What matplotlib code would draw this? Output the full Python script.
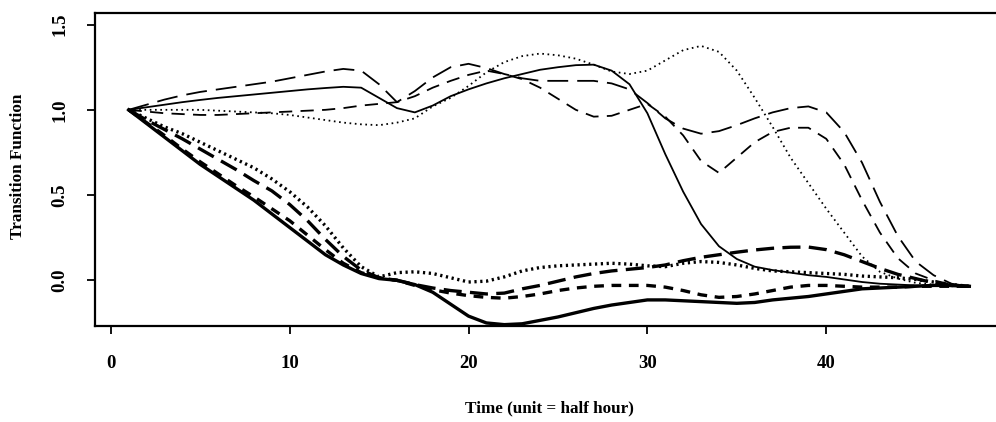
import matplotlib
matplotlib.use("Agg")
import matplotlib.pyplot as plt
import numpy as np

# ---------------- data ----------------
time = list(range(1, 49))

upper_solid = [1.00, 1.015, 1.03, 1.045, 1.058, 1.07, 1.08, 1.09, 1.10, 1.11,
               1.12, 1.128, 1.135, 1.13, 1.07, 1.01, 0.985, 1.025, 1.08, 1.12,
               1.155, 1.185, 1.21, 1.235, 1.25, 1.262, 1.265, 1.23, 1.15, 0.98,
               0.74, 0.52, 0.33, 0.20, 0.125, 0.08, 0.06, 0.045, 0.03, 0.02,
               0.005, -0.01, -0.02, -0.025, -0.03, -0.03, -0.035, -0.035]

upper_dotted = [1.00, 1.00, 1.00, 1.00, 1.00, 0.995, 0.99, 0.985, 0.98, 0.97,
                0.955, 0.94, 0.925, 0.915, 0.91, 0.925, 0.95, 1.02, 1.07, 1.14,
                1.22, 1.28, 1.315, 1.33, 1.32, 1.30, 1.265, 1.225, 1.21, 1.23,
                1.29, 1.35, 1.375, 1.34, 1.23, 1.07, 0.90, 0.72, 0.57, 0.42,
                0.28, 0.14, 0.05, 0.01, -0.015, -0.025, -0.03, -0.035]

upper_longdash = [1.00, 1.03, 1.06, 1.085, 1.105, 1.12, 1.135, 1.15, 1.165, 1.185,
                  1.205, 1.225, 1.24, 1.23, 1.15, 1.045, 1.11, 1.19, 1.25, 1.27,
                  1.245, 1.21, 1.185, 1.17, 1.17, 1.17, 1.17, 1.155, 1.12, 1.04,
                  0.95, 0.89, 0.86, 0.875, 0.91, 0.95, 0.985, 1.01, 1.02, 0.985,
                  0.87, 0.69, 0.46, 0.26, 0.11, 0.03, -0.02, -0.035]

upper_dashed = [1.00, 0.99, 0.98, 0.975, 0.97, 0.97, 0.975, 0.98, 0.985, 0.99,
                0.995, 1.00, 1.01, 1.025, 1.035, 1.045, 1.08, 1.13, 1.17, 1.205,
                1.23, 1.21, 1.18, 1.13, 1.065, 1.00, 0.96, 0.965, 1.00, 1.035,
                0.96, 0.85, 0.70, 0.63, 0.72, 0.81, 0.87, 0.895, 0.895, 0.83,
                0.68, 0.47, 0.28, 0.13, 0.04, 0.00, -0.025, -0.035]

lower_solid = [1.00, 0.92, 0.84, 0.76, 0.68, 0.61, 0.54, 0.47, 0.39, 0.31,
               0.23, 0.15, 0.09, 0.04, 0.01, 0.00, -0.025, -0.07, -0.14, -0.21,
               -0.25, -0.26, -0.255, -0.235, -0.215, -0.19, -0.165, -0.145, -0.13, -0.115,
               -0.115, -0.12, -0.125, -0.13, -0.135, -0.13, -0.115, -0.105, -0.095, -0.08,
               -0.065, -0.05, -0.045, -0.04, -0.035, -0.03, -0.03, -0.035]

lower_dotted = [1.00, 0.95, 0.90, 0.86, 0.81, 0.76, 0.71, 0.66, 0.595, 0.52,
                0.43, 0.32, 0.19, 0.08, 0.02, 0.045, 0.05, 0.04, 0.015, -0.01,
                -0.005, 0.02, 0.055, 0.075, 0.085, 0.09, 0.095, 0.10, 0.095, 0.085,
                0.08, 0.10, 0.11, 0.105, 0.09, 0.07, 0.055, 0.05, 0.045, 0.04,
                0.035, 0.025, 0.02, 0.015, 0.005, -0.01, -0.025, -0.035]

lower_longdash = [1.00, 0.94, 0.885, 0.83, 0.77, 0.71, 0.65, 0.585, 0.525, 0.445,
                  0.35, 0.24, 0.14, 0.06, 0.015, 0.00, -0.025, -0.045, -0.06, -0.07,
                  -0.08, -0.075, -0.05, -0.03, -0.005, 0.02, 0.04, 0.055, 0.065, 0.075,
                  0.09, 0.115, 0.135, 0.15, 0.165, 0.178, 0.188, 0.194, 0.195, 0.18,
                  0.15, 0.11, 0.07, 0.035, 0.01, -0.015, -0.03, -0.035]

lower_dashed = [1.00, 0.925, 0.85, 0.77, 0.695, 0.625, 0.555, 0.49, 0.42, 0.35,
                0.265, 0.18, 0.10, 0.045, 0.015, 0.00, -0.03, -0.055, -0.075, -0.09,
                -0.10, -0.105, -0.095, -0.08, -0.06, -0.045, -0.035, -0.03, -0.03, -0.03,
                -0.04, -0.06, -0.085, -0.10, -0.095, -0.08, -0.06, -0.04, -0.03, -0.03,
                -0.035, -0.04, -0.04, -0.04, -0.035, -0.035, -0.035, -0.035]

x_ticks = [0, 10, 20, 30, 40]
y_ticks = [0.0, 0.5, 1.0, 1.5]
y_tick_labels = ["0.0", "0.5", "1.0", "1.5"]
x_label = "Time (unit = half hour)"
y_label = "Transition Function"

# ---------------- styling ----------------
plt.rcParams['lines.scale_dashes'] = False
plt.rcParams['font.family'] = ['Liberation Serif', 'DejaVu Serif']

fig = plt.figure(figsize=(9.96, 4.22), dpi=100)
ax = fig.add_axes([95/996, (422-326)/422, 908/996, 313/422])

thin = 1.3
thick = 2.4
ink = "black"

ax.plot(time, upper_solid, color=ink, lw=thin, solid_joinstyle='round')
ax.plot(time, upper_dotted, color=ink, lw=thin, dashes=(1.2, 2.6))
ax.plot(time, upper_longdash, color=ink, lw=thin, dashes=(15, 6.5))
ax.plot(time, upper_dashed, color=ink, lw=thin, dashes=(9.5, 6))

ax.plot(time, lower_solid, color=ink, lw=thick, solid_joinstyle='round')
ax.plot(time, lower_dotted, color=ink, lw=thick, dashes=(1.6, 2.6))
ax.plot(time, lower_longdash, color=ink, lw=thick, dashes=(13, 6))
ax.plot(time, lower_dashed, color=ink, lw=thick, dashes=(7, 5.5))

ax.set_xlim(-0.88, 49.88)
ax.set_ylim(-0.268, 1.568)

ax.set_xticks(x_ticks)
ax.set_xticklabels([str(v) for v in x_ticks])
ax.set_yticks(y_ticks)
ax.set_yticklabels(y_tick_labels, rotation=90, va='center')

ax.tick_params(axis='both', direction='out', length=6, width=1.3, color=ink,
               labelsize=13.5)
ax.tick_params(axis='x', pad=15)
ax.tick_params(axis='y', pad=13)
for lab in ax.get_xticklabels() + ax.get_yticklabels():
    lab.set_fontweight('bold')

for s in ax.spines.values():
    s.set_linewidth(1.6)
    s.set_color(ink)

ax.set_xlabel(x_label, fontsize=12.3, fontweight='bold')
ax.set_ylabel(y_label, fontsize=12.3, fontweight='bold')
ax.xaxis.set_label_coords(0.501, -0.262)
ax.yaxis.label.set_verticalalignment('center')
ax.xaxis.label.set_verticalalignment('center')
ax.yaxis.set_label_coords(-0.085, 0.51)

fig.savefig("out.png", dpi=100)
